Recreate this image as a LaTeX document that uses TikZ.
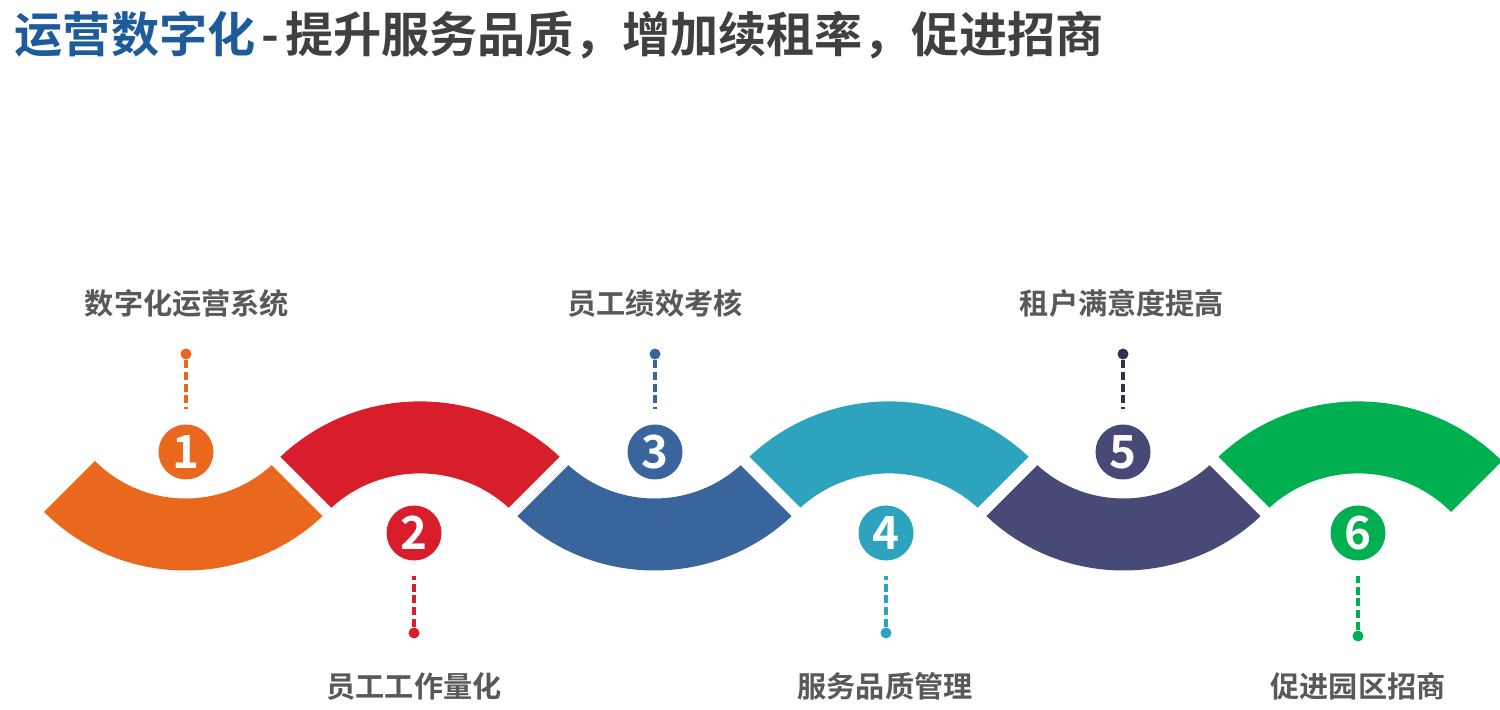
\documentclass[tikz,border=0pt]{standalone}
\usepackage{fontspec}
\newfontfamily\cjk{Noto Sans CJK SC}[BoldFont={Noto Sans CJK SC Bold}]
\usepackage{tikz}
\definecolor{segOrange}{HTML}{E9681E}
\definecolor{segRed}{HTML}{D81E2A}
\definecolor{segBlue}{HTML}{3A649C}
\definecolor{segTeal}{HTML}{2DA3BE}
\definecolor{segSlate}{HTML}{474A76}
\definecolor{segNavy}{HTML}{2F3050}
\definecolor{segGreen}{HTML}{00AF50}
\definecolor{titleBlue}{HTML}{1E5B9A}
\definecolor{titleGrey}{HTML}{404040}
\definecolor{capGrey}{HTML}{595959}

\begin{document}
\begin{tikzpicture}[x=0.1mm, y=0.1mm,
  numdot/.style={circle, inner sep=0pt, minimum size=5.5mm, text=white,
    font=\cjk\bfseries\fontsize{13pt}{14pt}\selectfont},
  pin/.style={circle, inner sep=0pt, minimum size=1.1mm},
  stem/.style={line width=0.35mm, dash pattern=on 0.8mm off 0.37mm, shorten >=1.45mm},
  caption/.style={inner sep=0pt, text=capGrey,
    font=\cjk\bfseries\fontsize{8.3pt}{10pt}\selectfont},
  cut/.style={white, line width=1.2mm}]
\useasboundingbox (0,0) rectangle (1500,710);

% title
\node[anchor=west, inner sep=0pt, text=titleGrey,
  font=\cjk\bfseries\fontsize{13.7pt}{16pt}\selectfont] (title) at (14,675)
  {{\color{titleBlue}运营数字化}\hspace{0.6mm}-\hspace{0.6mm}提升服务品质，增加续租率，促进招商};

% wave segments
\fill[segOrange, shift={(185.5,339.5)}] (225:200) arc[start angle=225, end angle=315, radius=200]
  -- (315:128) arc[start angle=315, end angle=225, radius=128] -- cycle;
\fill[segRed, shift={(420,105)}] (45:203.6) arc[start angle=45, end angle=135, radius=203.6]
  -- (135:131.6) arc[start angle=135, end angle=45, radius=131.6] -- cycle;
\fill[segBlue, shift={(654.5,339.5)}] (225:200) arc[start angle=225, end angle=315, radius=200]
  -- (315:128) arc[start angle=315, end angle=225, radius=128] -- cycle;
\fill[segTeal, shift={(889,105)}] (45:203.6) arc[start angle=45, end angle=135, radius=203.6]
  -- (135:131.6) arc[start angle=135, end angle=45, radius=131.6] -- cycle;
\fill[segSlate, shift={(1123.5,339.5)}] (225:200) arc[start angle=225, end angle=315, radius=200]
  -- (315:128) arc[start angle=315, end angle=225, radius=128] -- cycle;
\fill[segGreen, shift={(1358,105)}] (45:203.6) arc[start angle=45, end angle=135, radius=203.6]
  -- (135:131.6) arc[start angle=135, end angle=45, radius=131.6] -- cycle;

% gaps between segments
\draw[cut] (268.75,256.25) -- (336.75,188.25);
\draw[cut] (503.25,188.25) -- (571.25,256.25);
\draw[cut] (737.75,256.25) -- (805.75,188.25);
\draw[cut] (972.25,188.25) -- (1040.25,256.25);
\draw[cut] (1206.75,256.25) -- (1274.75,188.25);

% numbered circles
\node[numdot, fill=segOrange] (n1) at (186,258) {1};
\node[numdot, fill=segRed] (n2) at (414,177) {2};
\node[numdot, fill=segBlue] (n3) at (655,258) {3};
\node[numdot, fill=segTeal] (n4) at (886,177) {4};
\node[numdot, fill=segSlate] (n5) at (1123,258) {5};
\node[numdot, fill=segGreen] (n6) at (1358,177) {6};

% pins
\node[pin, fill=segOrange] (p1) at (186,356) {};
\node[pin, fill=segRed] (p2) at (414,77) {};
\node[pin, fill=segBlue] (p3) at (655,356) {};
\node[pin, fill=segTeal] (p4) at (886,77) {};
\node[pin, fill=segNavy] (p5) at (1123,356) {};
\node[pin, fill=segGreen] (p6) at (1358,74) {};

\draw[stem, segOrange] (p1) -- (n1);
\draw[stem, segRed] (p2) -- (n2);
\draw[stem, segBlue] (p3) -- (n3);
\draw[stem, segTeal] (p4) -- (n4);
\draw[stem, segNavy] (p5) -- (n5);
\draw[stem, segGreen] (p6) -- (n6);

% captions
\node[caption] (c1) at (187,407) {数字化运营系统};
\node[caption] (c2) at (414,24) {员工工作量化};
\node[caption] (c3) at (655,407) {员工绩效考核};
\node[caption] (c4) at (885,24) {服务品质管理};
\node[caption] (c5) at (1122,407) {租户满意度提高};
\node[caption] (c6) at (1358,24) {促进园区招商};
\end{tikzpicture}
\end{document}
